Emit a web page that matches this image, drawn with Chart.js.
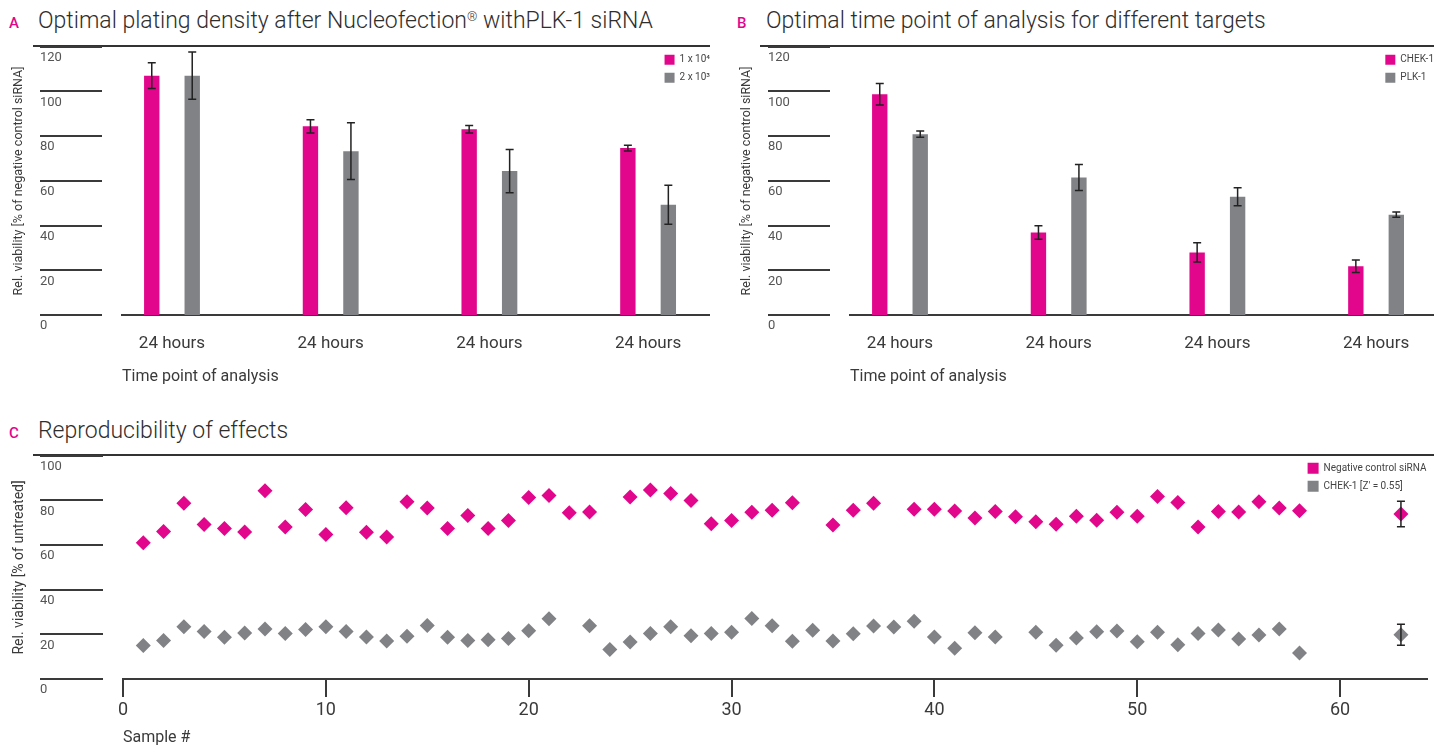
<!DOCTYPE html>
<html>
<head>
<meta charset="utf-8">
<script src="https://cdn.jsdelivr.net/npm/chart.js@4.4.0/dist/chart.umd.min.js"></script>
<style>
  body { margin: 0; width: 1434px; height: 748px; position: relative; overflow: hidden; background: #fff; font-family: Roboto, sans-serif; color: #333; }
  .tag { position: absolute; color: #e2068c; font-size: 15px; font-weight: 500; line-height: 15px; }
  .title { position: absolute; font-size: 23px; font-weight: 300; line-height: 23px; white-space: nowrap; color: #2e2e2e; }
  .title sup { font-size: 13px; vertical-align: 7px; line-height: 0; }
  .rule { position: absolute; height: 0; border-top: 2px solid #333; }
  canvas { position: absolute; }
</style>
</head>
<body>
<div class="tag" style="left:9px;top:16px">A</div>
<div class="title" style="left:38px;top:9px">Optimal plating density after Nucleofection<sup>®</sup> withPLK-1 siRNA</div>
<div class="rule" style="left:33px;top:45px;width:677px"></div>

<div class="tag" style="left:737px;top:16px">B</div>
<div class="title" style="left:766px;top:9px">Optimal time point of analysis for different targets</div>
<div class="rule" style="left:760px;top:45px;width:674px"></div>

<div class="tag" style="left:9px;top:426px">C</div>
<div class="title" style="left:38px;top:419px">Reproducibility of effects</div>
<div class="rule" style="left:33px;top:454px;width:1401px"></div>

<canvas id="chartA" width="710" height="354" style="left:0;top:36px"></canvas>
<canvas id="chartB" width="706" height="354" style="left:728px;top:36px"></canvas>
<canvas id="chartC" width="1434" height="303" style="left:0;top:445px"></canvas>

<script>
// ---- data ----
const timepoints = ['24 hours', '24 hours', '24 hours', '24 hours'];

// A: plating density
const dense = [107.1, 84.4, 83.1, 74.7];
const denseErr = [5.8, 3.0, 1.7, 1.3];
const sparse = [107.1, 73.3, 64.4, 49.3];
const sparseErr = [10.6, 12.7, 9.7, 8.7];

// B: targets
const chek1 = [98.8, 36.9, 28.0, 21.8];
const chek1Err = [4.8, 3.0, 4.3, 2.8];
const plk1 = [80.9, 61.5, 52.9, 44.9];
const plk1Err = [1.4, 5.8, 4.0, 1.2];

// C: reproducibility, samples 1..58 (null = no point)
const ctrlValues = [61.0, 66.1, 78.7, 69.2, 67.4, 65.9, 84.3, 68.1, 75.9, 64.7,
  76.7, 65.8, 63.6, 79.4, 76.6, 67.4, 73.2, 67.4, 71.0, 81.3,
  82.2, 74.5, 74.8, null, 81.5, 84.7, 83.1, 80.0, 69.6, 71.0,
  74.7, 75.6, 79.0, null, 69.0, 75.6, 78.7, null, 76.1, 76.1,
  75.3, 72.1, 75.1, 72.7, 70.4, 69.3, 72.9, 71.1, 74.7, 72.9,
  81.8, 79.1, 68.1, 75.1, 74.8, 79.4, 76.6, 75.4];
const chekValues = [15.0, 17.3, 23.4, 21.3, 18.7, 20.6, 22.4, 20.4, 22.2, 23.4,
  21.3, 18.8, 17.0, 19.1, 24.0, 18.7, 17.2, 17.6, 18.1, 21.6,
  27.0, null, 23.9, 13.2, 16.6, 20.4, 23.4, 19.4, 20.4, 20.9,
  27.1, 23.9, 16.9, 21.8, 17.0, 20.3, 23.7, 23.3, 25.9, 18.8,
  13.8, 20.7, 18.8, null, 20.9, 15.1, 18.4, 21.2, 21.5, 16.7,
  21.0, 15.4, 20.4, 21.9, 17.9, 19.7, 22.4, 11.7];
const summarySample = 63;
const ctrlSummary = [73.9, 5.7];   // mean, sd
const chekSummary = [19.8, 4.7];
const sampleTicks = [0, 10, 20, 30, 40, 50, 60];

const pink = '#e2068c';
const grey = '#818286';
const ink = '#3a3a3a';

Chart.defaults.font.family = 'Roboto, sans-serif';
Chart.defaults.color = ink;
Chart.defaults.animation = false;

// short rules left of the plot, one per y tick
const tickRules = {
  id: 'tickRules',
  afterDraw(chart) {
    const y = chart.scales.y, ctx = chart.ctx;
    ctx.save();
    ctx.strokeStyle = ink;
    ctx.lineWidth = 2;
    y.ticks.forEach(t => {
      const py = Math.round(y.getPixelForValue(t.value));
      ctx.beginPath();
      ctx.moveTo(y.left, py);
      ctx.lineTo(y.right - 20, py);
      ctx.stroke();
    });
    ctx.restore();
  }
};

const errorBars = {
  id: 'errorBars',
  afterDatasetsDraw(chart) {
    const ctx = chart.ctx, ys = chart.scales.y;
    ctx.save();
    ctx.strokeStyle = '#222';
    ctx.lineWidth = 1.5;
    chart.data.datasets.forEach((ds, i) => {
      chart.getDatasetMeta(i).data.forEach((el, j) => {
        const p = ds.data[j];
        if (p.err == null) return;
        const top = ys.getPixelForValue(p.y + p.err);
        const bot = ys.getPixelForValue(p.y - p.err);
        ctx.beginPath();
        ctx.moveTo(el.x, top); ctx.lineTo(el.x, bot);
        ctx.moveTo(el.x - 4, top); ctx.lineTo(el.x + 4, top);
        ctx.moveTo(el.x - 4, bot); ctx.lineTo(el.x + 4, bot);
        ctx.stroke();
      });
    });
    ctx.restore();
  }
};

// move the in-plot legend to the top right corner
const legendCorner = {
  id: 'legendCorner',
  afterLayout(chart) {
    const lg = chart.legend, ca = chart.chartArea, lo = lg.options.labels;
    const ctx = chart.ctx;
    ctx.save();
    ctx.font = Chart.helpers.toFont(lo.font).string;
    const textW = Math.max(...lg.legendItems.map(it => ctx.measureText(it.text).width));
    ctx.restore();
    lg.left = ca.right - (lo.padding + lo.boxWidth + lo.font.size / 2 + textW);
    lg.right = ca.right;
    lg.top = ca.top;
    lg.bottom = ca.top + lg.height;
  }
};

function yScales(max, title, titleSize, axisWidth) {
  return {
    y: {
      min: 0, max: max,
      ticks: { stepSize: 20, crossAlign: 'far', labelOffset: 11, font: { size: 13 }, color: '#555' },
      grid: { display: false, drawTicks: false },
      border: { display: false },
      afterFit: s => { s.width = axisWidth; }
    },
    yTitle: {
      type: 'linear', position: 'left', weight: 1,
      ticks: { display: false },
      grid: { display: false, drawTicks: false },
      border: { display: false },
      title: { display: true, text: title, font: { size: titleSize }, color: ink, padding: { top: 11, bottom: 0 } },
      afterFit: s => { s.width = 40; }
    }
  };
}

function legendOpts(box, pad) {
  return {
    position: 'chartArea', align: 'start',
    labels: { boxWidth: box, boxHeight: box, padding: pad, font: { size: 10 }, color: '#444' }
  };
}

function barChart(id, names, s1, e1, s2, e2, xMax) {
  const pts = (vals, errs) => vals.map((v, i) => ({ x: i, y: v, err: errs[i] }));
  return new Chart(document.getElementById(id), {
    type: 'bar',
    data: {
      datasets: [
        { label: names[0], data: pts(s1, e1), backgroundColor: pink, yAxisID: 'y',
          categoryPercentage: 0.51, barPercentage: 0.38 },
        { label: names[1], data: pts(s2, e2), backgroundColor: grey, yAxisID: 'y',
          categoryPercentage: 0.51, barPercentage: 0.38 }
      ]
    },
    options: {
      responsive: false,
      layout: { padding: { top: 10, left: 0, right: 0, bottom: 0 } },
      plugins: { legend: legendOpts(10, 8), tooltip: { enabled: false } },
      scales: Object.assign({
        x: {
          type: 'linear', min: -0.315, max: xMax, offset: false,
          afterBuildTicks: s => { s.ticks = timepoints.map((t, i) => ({ value: i })); },
          afterFit: s => { s.height = 75; },
          grid: { display: false, drawTicks: false, offset: false },
          border: { display: true, color: ink, width: 2 },
          ticks: { callback: v => timepoints[v], padding: 19, font: { size: 17 }, color: ink, maxRotation: 0, autoSkip: false },
          title: { display: true, text: 'Time point of analysis', align: 'start', font: { size: 16 }, color: ink, padding: { top: 0, bottom: 3 } }
        }
      }, yScales(120, 'Rel. viability [% of negative control siRNA]', 12.5, 82))
    },
    plugins: [tickRules, errorBars, legendCorner]
  });
}

barChart('chartA', ['1 x 10\u2074', '2 x 10\u00b3'], dense, denseErr, sparse, sparseErr, 3.39);
barChart('chartB', ['CHEK-1', 'PLK-1'], chek1, chek1Err, plk1, plk1Err, 3.365);

function samplePoints(values, summary) {
  const pts = [];
  values.forEach((v, i) => { if (v !== null) pts.push({ x: i + 1, y: v }); });
  pts.push({ x: summarySample, y: summary[0], err: summary[1] });
  return pts;
}

new Chart(document.getElementById('chartC'), {
  type: 'scatter',
  data: {
    datasets: [
      { label: 'Negative control siRNA', data: samplePoints(ctrlValues, ctrlSummary), yAxisID: 'y',
        backgroundColor: pink, borderColor: pink, borderWidth: 0,
        pointStyle: 'rectRot', pointRadius: 7.5, pointBorderWidth: 0 },
      { label: "CHEK-1 [Z' = 0.55]", data: samplePoints(chekValues, chekSummary), yAxisID: 'y',
        backgroundColor: grey, borderColor: grey, borderWidth: 0,
        pointStyle: 'rectRot', pointRadius: 7.5, pointBorderWidth: 0 }
    ]
  },
  options: {
    responsive: false,
    layout: { padding: { top: 10, left: 0, right: 0, bottom: 0 } },
    plugins: { legend: legendOpts(11, 7), tooltip: { enabled: false } },
    scales: Object.assign({
      x: {
        type: 'linear', min: 0, max: 64.26,
        afterBuildTicks: s => { s.ticks = sampleTicks.map(v => ({ value: v })); },
        afterFit: s => { s.height = 69; },
        grid: { display: true, drawOnChartArea: false, drawTicks: true, tickLength: 18, color: ink, lineWidth: 2 },
        border: { display: true, color: ink, width: 2 },
        ticks: { padding: 3, font: { size: 18 }, color: ink, maxRotation: 0, autoSkip: false },
        title: { display: true, text: 'Sample #', align: 'start', font: { size: 16 }, color: ink, padding: { top: 0, bottom: 0 } }
      }
    }, yScales(100, 'Rel. viability [% of untreated]', 14, 83))
  },
  plugins: [tickRules, errorBars, legendCorner]
});
</script>
</body>
</html>
